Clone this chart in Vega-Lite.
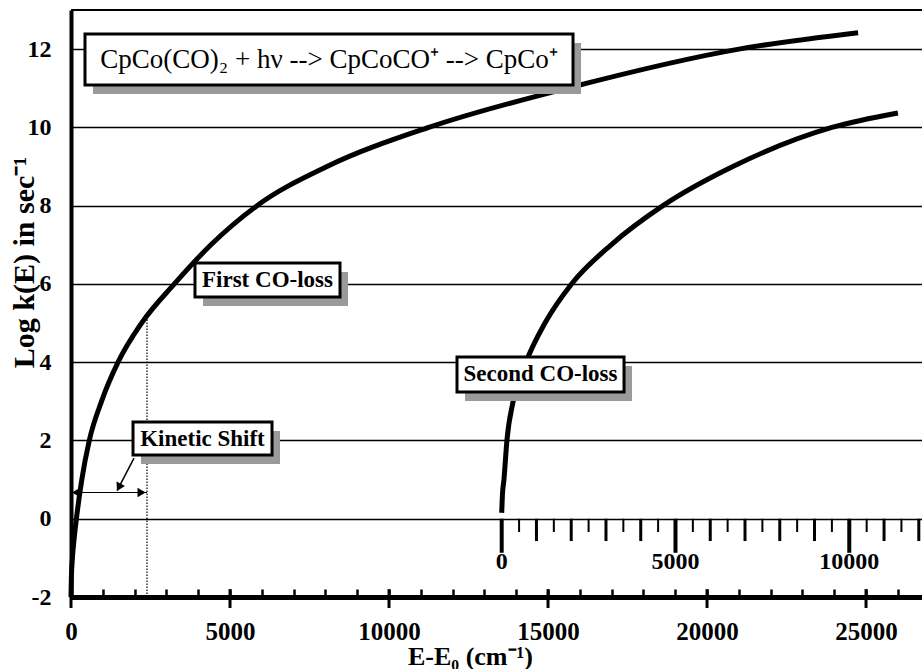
{
  "$schema": "https://vega.github.io/schema/vega-lite/v6.json",
  "width": 851,
  "height": 587,
  "autosize": {"type": "none"},
  "padding": {"left": 71, "top": 10, "right": 0, "bottom": 72},
  "background": "white",
  "config": {"view": {"stroke": null}, "font": "Liberation Serif"},
  "datasets": {
    "first": [
      {"E": 0, "v": -2}, {"E": 12, "v": -1.5}, {"E": 45, "v": -1}, {"E": 100, "v": -0.5}, {"E": 170, "v": 0},
      {"E": 340, "v": 1}, {"E": 575, "v": 2}, {"E": 960, "v": 3}, {"E": 1480, "v": 4},
      {"E": 2220, "v": 5}, {"E": 3250, "v": 6}, {"E": 4400, "v": 7}, {"E": 5850, "v": 8},
      {"E": 8050, "v": 9}, {"E": 11250, "v": 10}, {"E": 15600, "v": 11}, {"E": 21000, "v": 12},
      {"E": 24750, "v": 12.42}
    ],
    "second": [
      {"s": 0, "v": 0.15}, {"s": 20, "v": 0.6}, {"s": 65, "v": 1}, {"s": 150, "v": 2},
      {"s": 330, "v": 3}, {"s": 700, "v": 4}, {"s": 1245, "v": 5}, {"s": 2010, "v": 6},
      {"s": 3150, "v": 7}, {"s": 4640, "v": 8}, {"s": 6650, "v": 9}, {"s": 9500, "v": 10},
      {"s": 11400, "v": 10.37}
    ],
    "frame": [{"v": 13}],
    "majorTicks": [{"E": 0}, {"E": 5000}, {"E": 10000}, {"E": 15000}, {"E": 20000}, {"E": 25000}],
    "secBig": [{"s": 0, "label": "0"}, {"s": 5000, "label": "5000"}, {"s": 10000, "label": "10000"}],
    "secMed": [{"s": 1000}, {"s": 2000}, {"s": 3000}, {"s": 4000}, {"s": 6000}, {"s": 7000}, {"s": 8000}, {"s": 9000}, {"s": 11000}, {"s": 12000}],
    "secSmall": [{"s": 500}, {"s": 1500}, {"s": 2500}, {"s": 3500}, {"s": 4500}, {"s": 5500}, {"s": 6500}, {"s": 7500}, {"s": 8500}, {"s": 9500}, {"s": 10500}, {"s": 11500}],
    "shiftLine": [{"E": 2390, "v1": -2, "v2": 5.15}],
    "shiftArrow": [{"E1": 50, "E2": 2390, "v": 0.67}],
    "headLeft": [{"E": 160, "v": 0.67}],
    "headRight": [{"E": 2220, "v": 0.67}],
    "pointer": [{"E1": 1981, "v1": 1.55, "E2": 1450, "v2": 0.72}],
    "pointerHead": [{"E": 1505, "v": 0.8}],
    "boxes": [
      {"x1": 440, "x2": 15786, "y1": 12.387, "y2": 11.083},
      {"x1": 3899, "x2": 8459, "y1": 6.535, "y2": 5.666},
      {"x1": 12138, "x2": 17390, "y1": 4.133, "y2": 3.239},
      {"x1": 1950, "x2": 6321, "y1": 2.472, "y2": 1.629}
    ],
    "titleText": [{"E": 8113, "v": 11.735, "text": "CpCo(CO)₂ + hν --> CpCoCO⁺ --> CpCo⁺"}],
    "labels": [
      {"E": 6179, "v": 6.10, "text": "First CO-loss"},
      {"E": 14764, "v": 3.686, "text": "Second CO-loss"},
      {"E": 4135, "v": 2.05, "text": "Kinetic Shift"}
    ]
  },
  "resolve": {"scale": {"x": "independent"}, "axis": {"x": "independent", "y": "independent"}},
  "layer": [
    {
      "data": {"name": "first"},
      "mark": {"type": "line", "color": "black", "strokeWidth": 5, "interpolate": "monotone", "strokeCap": "butt"},
      "encoding": {
        "x": {
          "field": "E", "type": "quantitative",
          "scale": {"domain": [0, 26760], "nice": false, "zero": false},
          "axis": {
            "values": [0, 1000, 2000, 3000, 4000, 5000, 6000, 7000, 8000, 9000, 10000, 11000, 12000, 13000, 14000, 15000, 16000, 17000, 18000, 19000, 20000, 21000, 22000, 23000, 24000, 25000, 26000],
            "format": "d",
            "labelExpr": "datum.value % 5000 === 0 ? datum.label : ''",
            "labelOverlap": false, "labelBound": false, "labelFlush": false,
            "grid": false,
            "domainColor": "black", "domainWidth": 5,
            "tickColor": "black", "tickWidth": 2.5, "tickSize": -8,
            "labelPadding": 30,
            "labelFont": "Liberation Serif", "labelFontWeight": "bold", "labelFontSize": 25, "labelColor": "black",
            "title": "E-E₀ (cm⁻¹)",
            "titleFont": "Liberation Serif", "titleFontWeight": "bold", "titleFontSize": 26, "titleColor": "black",
            "titleX": 399, "titleY": 67, "titleBaseline": "alphabetic", "titleAlign": "center"
          }
        },
        "y": {
          "field": "v", "type": "quantitative",
          "scale": {"domain": [-2, 13], "nice": false, "zero": false},
          "axis": {
            "orient": "left",
            "values": [-2, 0, 2, 4, 6, 8, 10, 12],
            "labelExpr": "datum.value + ''",
            "grid": true, "gridColor": "black", "gridWidth": 1.5, "gridOpacity": 1,
            "domainColor": "black", "domainWidth": 4,
            "ticks": false,
            "labelPadding": 20,
            "labelFont": "Liberation Serif", "labelFontWeight": "bold", "labelFontSize": 24, "labelColor": "black",
            "title": "Log k(E) in sec⁻¹",
            "titleFont": "Liberation Serif", "titleFontWeight": "bold", "titleFontSize": 30, "titleColor": "black",
            "titleX": -32, "titleY": 252, "titleAngle": 270, "titleAlign": "center", "titleBaseline": "bottom"
          }
        }
      }
    },
    {
      "data": {"name": "frame"},
      "mark": {"type": "rule", "color": "black", "strokeWidth": 2},
      "encoding": {"y": {"field": "v", "type": "quantitative", "scale": {"domain": [-2, 13], "nice": false, "zero": false}, "axis": null}}
    },
    {
      "data": {"name": "majorTicks"},
      "mark": {"type": "rule", "color": "black", "strokeWidth": 3},
      "encoding": {
        "x": {"field": "E", "type": "quantitative", "scale": {"domain": [0, 26760], "nice": false, "zero": false}, "axis": null},
        "y": {"datum": -2.28, "type": "quantitative", "scale": {"domain": [-2, 13], "nice": false, "zero": false}, "axis": null},
        "y2": {"datum": -1.8}
      }
    },
    {
      "data": {"name": "shiftLine"},
      "mark": {"type": "rule", "color": "black", "strokeWidth": 1.2, "strokeDash": [1.5, 1.5]},
      "encoding": {
        "x": {"field": "E", "type": "quantitative", "scale": {"domain": [0, 26760], "nice": false, "zero": false}, "axis": null},
        "y": {"field": "v1", "type": "quantitative", "scale": {"domain": [-2, 13], "nice": false, "zero": false}, "axis": null},
        "y2": {"field": "v2"}
      }
    },
    {
      "data": {"name": "shiftArrow"},
      "mark": {"type": "rule", "color": "black", "strokeWidth": 1.2},
      "encoding": {
        "x": {"field": "E1", "type": "quantitative", "scale": {"domain": [0, 26760], "nice": false, "zero": false}, "axis": null},
        "x2": {"field": "E2"},
        "y": {"field": "v", "type": "quantitative", "scale": {"domain": [-2, 13], "nice": false, "zero": false}, "axis": null}
      }
    },
    {
      "data": {"name": "headLeft"},
      "mark": {"type": "point", "shape": "triangle-left", "filled": true, "color": "black", "size": 90, "opacity": 1},
      "encoding": {
        "x": {"field": "E", "type": "quantitative", "scale": {"domain": [0, 26760], "nice": false, "zero": false}, "axis": null},
        "y": {"field": "v", "type": "quantitative", "scale": {"domain": [-2, 13], "nice": false, "zero": false}, "axis": null}
      }
    },
    {
      "data": {"name": "headRight"},
      "mark": {"type": "point", "shape": "triangle-right", "filled": true, "color": "black", "size": 90, "opacity": 1},
      "encoding": {
        "x": {"field": "E", "type": "quantitative", "scale": {"domain": [0, 26760], "nice": false, "zero": false}, "axis": null},
        "y": {"field": "v", "type": "quantitative", "scale": {"domain": [-2, 13], "nice": false, "zero": false}, "axis": null}
      }
    },
    {
      "data": {"name": "pointer"},
      "mark": {"type": "rule", "color": "black", "strokeWidth": 1.5},
      "encoding": {
        "x": {"field": "E1", "type": "quantitative", "scale": {"domain": [0, 26760], "nice": false, "zero": false}, "axis": null},
        "x2": {"field": "E2"},
        "y": {"field": "v1", "type": "quantitative", "scale": {"domain": [-2, 13], "nice": false, "zero": false}, "axis": null},
        "y2": {"field": "v2"}
      }
    },
    {
      "data": {"name": "pointerHead"},
      "mark": {"type": "point", "shape": "triangle-down", "angle": 27, "filled": true, "color": "black", "size": 90, "opacity": 1},
      "encoding": {
        "x": {"field": "E", "type": "quantitative", "scale": {"domain": [0, 26760], "nice": false, "zero": false}, "axis": null},
        "y": {"field": "v", "type": "quantitative", "scale": {"domain": [-2, 13], "nice": false, "zero": false}, "axis": null}
      }
    },
    {
      "data": {"name": "second"},
      "mark": {"type": "line", "color": "black", "strokeWidth": 5, "interpolate": "monotone", "strokeCap": "butt"},
      "encoding": {
        "x": {"field": "s", "type": "quantitative", "scale": {"domain": [-12391, 12092], "nice": false, "zero": false}, "axis": null},
        "y": {"field": "v", "type": "quantitative", "scale": {"domain": [-2, 13], "nice": false, "zero": false}, "axis": null}
      }
    },
    {
      "data": {"name": "secBig"},
      "mark": {"type": "rule", "color": "black", "strokeWidth": 4},
      "encoding": {
        "x": {"field": "s", "type": "quantitative", "scale": {"domain": [-12391, 12092], "nice": false, "zero": false}, "axis": null},
        "y": {"datum": 0, "type": "quantitative", "scale": {"domain": [-2, 13], "nice": false, "zero": false}, "axis": null},
        "y2": {"datum": -0.87}
      }
    },
    {
      "data": {"name": "secMed"},
      "mark": {"type": "rule", "color": "black", "strokeWidth": 3},
      "encoding": {
        "x": {"field": "s", "type": "quantitative", "scale": {"domain": [-12391, 12092], "nice": false, "zero": false}, "axis": null},
        "y": {"datum": 0, "type": "quantitative", "scale": {"domain": [-2, 13], "nice": false, "zero": false}, "axis": null},
        "y2": {"datum": -0.57}
      }
    },
    {
      "data": {"name": "secSmall"},
      "mark": {"type": "rule", "color": "black", "strokeWidth": 2},
      "encoding": {
        "x": {"field": "s", "type": "quantitative", "scale": {"domain": [-12391, 12092], "nice": false, "zero": false}, "axis": null},
        "y": {"datum": 0, "type": "quantitative", "scale": {"domain": [-2, 13], "nice": false, "zero": false}, "axis": null},
        "y2": {"datum": -0.34}
      }
    },
    {
      "data": {"name": "secBig"},
      "mark": {"type": "text", "font": "Liberation Serif", "fontSize": 24, "fontWeight": "bold", "color": "black", "align": "center", "baseline": "middle"},
      "encoding": {
        "x": {"field": "s", "type": "quantitative", "scale": {"domain": [-12391, 12092], "nice": false, "zero": false}, "axis": null},
        "y": {"datum": -1.1, "type": "quantitative", "scale": {"domain": [-2, 13], "nice": false, "zero": false}, "axis": null},
        "text": {"field": "label"}
      }
    },
    {
      "data": {"name": "boxes"},
      "mark": {"type": "rect", "fill": "#9a9a9a", "xOffset": 8, "x2Offset": 8, "yOffset": 9, "y2Offset": 9},
      "encoding": {
        "x": {"field": "x1", "type": "quantitative", "scale": {"domain": [0, 26760], "nice": false, "zero": false}, "axis": null},
        "x2": {"field": "x2"},
        "y": {"field": "y1", "type": "quantitative", "scale": {"domain": [-2, 13], "nice": false, "zero": false}, "axis": null},
        "y2": {"field": "y2"}
      }
    },
    {
      "data": {"name": "boxes"},
      "mark": {"type": "rect", "fill": "white", "stroke": "black", "strokeWidth": 3},
      "encoding": {
        "x": {"field": "x1", "type": "quantitative", "scale": {"domain": [0, 26760], "nice": false, "zero": false}, "axis": null},
        "x2": {"field": "x2"},
        "y": {"field": "y1", "type": "quantitative", "scale": {"domain": [-2, 13], "nice": false, "zero": false}, "axis": null},
        "y2": {"field": "y2"}
      }
    },
    {
      "data": {"name": "titleText"},
      "mark": {"type": "text", "font": "Liberation Serif", "fontSize": 27, "color": "black", "align": "center", "baseline": "middle"},
      "encoding": {
        "x": {"field": "E", "type": "quantitative", "scale": {"domain": [0, 26760], "nice": false, "zero": false}, "axis": null},
        "y": {"field": "v", "type": "quantitative", "scale": {"domain": [-2, 13], "nice": false, "zero": false}, "axis": null},
        "text": {"field": "text"}
      }
    },
    {
      "data": {"name": "labels"},
      "mark": {"type": "text", "font": "Liberation Serif", "fontSize": 23, "fontWeight": "bold", "color": "black", "align": "center", "baseline": "middle"},
      "encoding": {
        "x": {"field": "E", "type": "quantitative", "scale": {"domain": [0, 26760], "nice": false, "zero": false}, "axis": null},
        "y": {"field": "v", "type": "quantitative", "scale": {"domain": [-2, 13], "nice": false, "zero": false}, "axis": null},
        "text": {"field": "text"}
      }
    }
  ]
}
